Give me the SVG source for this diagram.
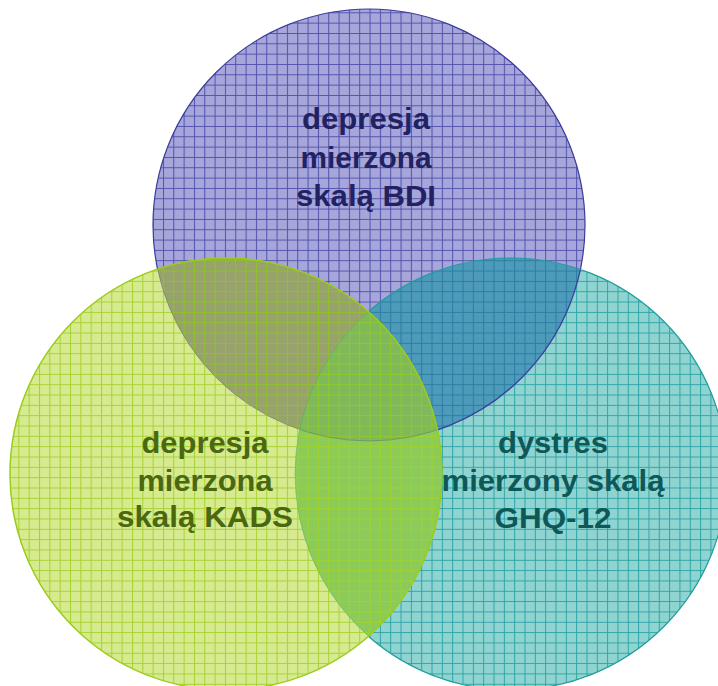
<svg xmlns="http://www.w3.org/2000/svg" xmlns:xlink="http://www.w3.org/1999/xlink" width="718" height="686" viewBox="0 0 718 686">
<defs>
<style>
.lbl{font-family:"Liberation Sans",Arial,sans-serif;font-weight:bold;font-size:29px;text-anchor:middle}
.gl{stroke-width:1;fill:none}
</style>
<circle id="cT" cx="369" cy="225" r="216"/>
<circle id="cL" cx="226" cy="474" r="216"/>
<circle id="cR" cx="511" cy="474" r="216"/>
<clipPath id="clipT"><circle cx="369" cy="225" r="216"/></clipPath>
<clipPath id="clipL"><circle cx="226" cy="474" r="216"/></clipPath>
<clipPath id="clipR"><circle cx="511" cy="474" r="216"/></clipPath>
<mask id="outL" maskUnits="userSpaceOnUse" x="0" y="0" width="718" height="686"><rect width="718" height="686" fill="#fff"/><circle cx="226" cy="474" r="216" fill="#000"/></mask>
<pattern id="pT" patternUnits="userSpaceOnUse" x="8" y="2" width="10.33" height="10.33"><rect width="10.33" height="10.33" fill="#a6a6da"/><path class="gl" d="M0 0.5H10.33M0.5 0V10.33" stroke="#5252ae"/></pattern>
<pattern id="pL" patternUnits="userSpaceOnUse" x="8" y="2" width="10.33" height="10.33"><rect width="10.33" height="10.33" fill="#d6ea90"/><path class="gl" d="M0 0.5H10.33M0.5 0V10.33" stroke="#a8d232"/></pattern>
<pattern id="pR" patternUnits="userSpaceOnUse" x="8" y="2" width="10.33" height="10.33"><rect width="10.33" height="10.33" fill="#90d4d2"/><path class="gl" d="M0 0.5H10.33M0.5 0V10.33" stroke="#2ea5a5"/></pattern>
<pattern id="pTL" patternUnits="userSpaceOnUse" x="8" y="2" width="10.33" height="10.33"><rect width="10.33" height="10.33" fill="#97a26c"/><path class="gl" d="M0 0.5H10.33M0.5 0V10.33" stroke="#8ec424"/></pattern>
<pattern id="pTR" patternUnits="userSpaceOnUse" x="8" y="2" width="10.33" height="10.33"><rect width="10.33" height="10.33" fill="#4d9aba"/><path class="gl" d="M0 0.5H10.33M0.5 0V10.33" stroke="#2a7ea3"/></pattern>
<pattern id="pLR" patternUnits="userSpaceOnUse" x="8" y="2" width="10.33" height="10.33"><rect width="10.33" height="10.33" fill="#8ccb5a"/><path class="gl" d="M0 0.5H10.33M0.5 0V10.33" stroke="#9ed42c"/></pattern>
<pattern id="pC" patternUnits="userSpaceOnUse" x="8" y="2" width="10.33" height="10.33"><rect width="10.33" height="10.33" fill="#80b95a"/><path class="gl" d="M0 0.5H10.33M0.5 0V10.33" stroke="#90ca2a"/></pattern>
</defs>
<rect width="718" height="686" fill="#ffffff"/>

<g id="node-bdi">
<use xlink:href="#cT" fill="url(#pT)"/>
<text class="lbl" fill="#222262"><tspan x="366" y="128.5" textLength="128" lengthAdjust="spacingAndGlyphs">depresja</tspan><tspan x="366" y="167.5" textLength="131" lengthAdjust="spacingAndGlyphs">mierzona</tspan><tspan x="366" y="206" textLength="140" lengthAdjust="spacingAndGlyphs">skalą BDI</tspan></text>
</g>

<g id="node-ghq">
<use xlink:href="#cR" fill="url(#pR)"/>
<text class="lbl" fill="#0e5858"><tspan x="553" y="453" textLength="110" lengthAdjust="spacingAndGlyphs">dystres</tspan><tspan x="553" y="490.5" textLength="223" lengthAdjust="spacingAndGlyphs">mierzony skalą</tspan><tspan x="553" y="528" textLength="117" lengthAdjust="spacingAndGlyphs">GHQ-12</tspan></text>
</g>

<g id="node-kads">
<use xlink:href="#cL" fill="url(#pL)"/>
<text class="lbl" fill="#4a6810"><tspan x="205" y="453" textLength="127" lengthAdjust="spacingAndGlyphs">depresja</tspan><tspan x="205" y="490.5" textLength="135" lengthAdjust="spacingAndGlyphs">mierzona</tspan><tspan x="205" y="527" textLength="176" lengthAdjust="spacingAndGlyphs">skalą KADS</tspan></text>
</g>

<g id="overlaps">
<g clip-path="url(#clipT)"><use xlink:href="#cR" fill="url(#pTR)"/></g>
<g clip-path="url(#clipT)"><use xlink:href="#cL" fill="url(#pTL)"/></g>
<g clip-path="url(#clipR)"><use xlink:href="#cL" fill="url(#pLR)"/></g>
<g clip-path="url(#clipT)"><g clip-path="url(#clipR)"><use xlink:href="#cL" fill="url(#pC)"/></g></g>
</g>

<g id="outlines" fill="none">
<g mask="url(#outL)">
<use xlink:href="#cT" stroke="#3b3b9c" stroke-width="1.2"/>
<use xlink:href="#cR" stroke="#1f9d9d" stroke-width="1.2"/>
</g>
<g clip-path="url(#clipL)" opacity="0.3">
<use xlink:href="#cT" stroke="#3b3b9c" stroke-width="1"/>
<use xlink:href="#cR" stroke="#1f9d9d" stroke-width="1"/>
</g>
<use xlink:href="#cL" stroke="#9ccc1a" stroke-width="1.5"/>
</g>
</svg>
